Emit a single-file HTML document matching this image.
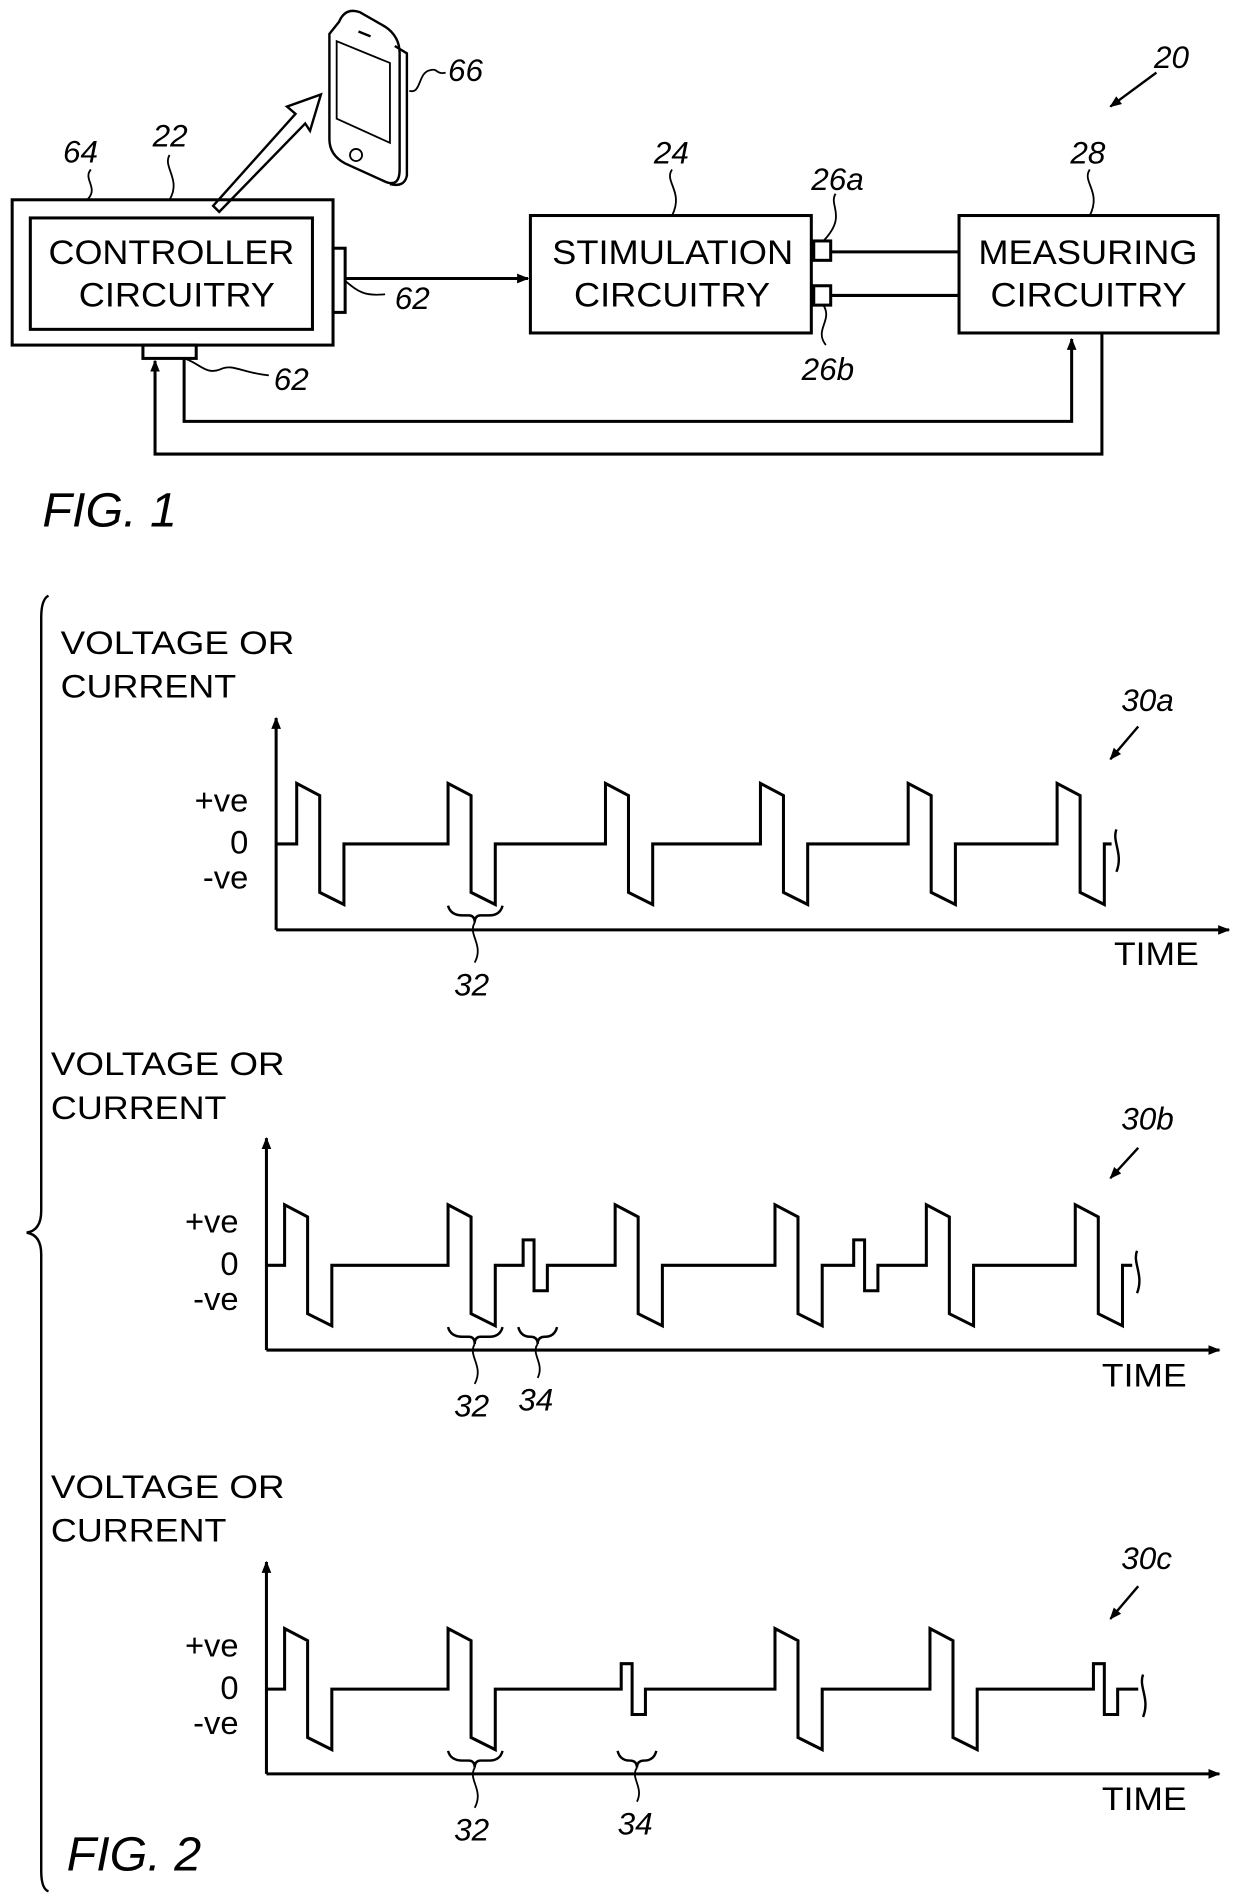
<!DOCTYPE html>
<html><head><meta charset="utf-8"><style>
html,body{margin:0;padding:0;background:#fff}
svg{display:block}
text{font-family:"Liberation Sans",Arial,sans-serif;fill:#000}
.b{font-size:28px}
.i{font-size:26px;font-style:italic}
.l{font-size:27px}
</style></head><body>
<svg width="1240" height="1901" viewBox="0 0 1024 1570" xmlns="http://www.w3.org/2000/svg">
<defs><marker id="a" markerWidth="10" markerHeight="10" refX="9" refY="5" orient="auto" markerUnits="userSpaceOnUse"><path d="M0 1 L10 5 L0 9 Z" fill="#000"/></marker></defs>
<g fill="none" stroke="#000" stroke-width="2.5">
<rect x="10" y="165" width="265" height="120"/>
<rect x="25" y="180" width="233" height="92"/>
<rect x="275" y="205" width="10" height="53"/>
<rect x="118" y="285" width="44" height="11"/>
<line x1="285" y1="230" x2="436" y2="230" marker-end="url(#a)"/>
<rect x="438" y="178" width="232" height="97"/>
<rect x="672" y="199" width="14" height="16"/>
<rect x="672" y="236" width="14" height="16"/>
<line x1="686" y1="208" x2="792" y2="208"/>
<line x1="686" y1="244" x2="792" y2="244"/>
<rect x="792" y="178" width="214" height="97"/>
<polyline points="152,296 152,348 885,348 885,280" marker-end="url(#a)"/>
<polyline points="910,275 910,375 128,375 128,298" marker-end="url(#a)"/>
<path d="M176 170 L181 175 L252 102 L256 108 L265 78 L237 88 L244 94 Z" stroke-width="2"/>
<path d="M280 18 Q285 6 297 10 L318 22 Q330 30 330 44 L330 140 Q330 155 318 150 L285 135 Q272 128 272 115 L272 28 Z" stroke-width="2"/>
<path d="M326 38 L336 44 L336 145 Q334 155 322 152" stroke-width="2"/>
<path d="M278 34 L322 52 L322 118 L278 98 Z" stroke-width="1.5"/>
<circle cx="294" cy="128" r="5" stroke-width="1.5"/>
<path d="M296 26 L306 30" stroke-width="2"/>
<path d="M338 75 C348 78 345 60 355 58 C362 56 360 62 368 60" stroke-width="1.5"/>
<path d="M75 140 C68 148 82 155 72 165" stroke-width="1.5"/>
<path d="M140 128 C134 138 150 148 140 165" stroke-width="1.5"/>
<path d="M555 140 C548 150 565 158 555 178" stroke-width="1.5"/>
<path d="M900 140 C893 150 910 158 900 178" stroke-width="1.5"/>
<path d="M690 160 C684 170 700 178 680 199" stroke-width="1.5"/>
<path d="M680 252 C688 265 672 272 682 285" stroke-width="1.5"/>
<path d="M285 232 C295 240 300 245 318 243" stroke-width="1.5"/>
<path d="M152 296 C165 300 170 310 182 305 C192 300 200 308 222 310" stroke-width="1.5"/>
<line x1="955" y1="60" x2="917" y2="88" stroke-width="2" marker-end="url(#a)"/>
<path d="M40 492 Q34 495 34 510 L34 1000 Q34 1016 22 1018 Q34 1020 34 1036 L34 1545 Q34 1560 40 1562" stroke-width="2"/>
<line x1="228" y1="768" x2="228" y2="593" marker-end="url(#a)"/>
<line x1="228" y1="768" x2="1015" y2="768" marker-end="url(#a)"/>
<path d="M228 697 H245 V647 L264 657 V737 L284 747 V697 H370 V647 L389 657 V737 L409 747 V697 H500 V647 L519 657 V737 L539 747 V697 H628 V647 L647 657 V737 L667 747 V697 H750 V647 L769 657 V737 L789 747 V697 H873 V647 L892 657 V737 L912 747 V697 H918"/>
<path d="M922 685 C918 695 928 705 922 720" stroke-width="2"/>
<path d="M370 748 Q372 756 382 756 H387 Q392 756 392 762 Q392 756 397 756 H404 Q413 756 415 748" stroke-width="2"/>
<path d="M392 762 C386 772 400 780 392 795" stroke-width="1.5"/>
<line x1="940" y1="600" x2="917" y2="627" stroke-width="2" marker-end="url(#a)"/>
<line x1="220" y1="1115" x2="220" y2="940" marker-end="url(#a)"/>
<line x1="220" y1="1115" x2="1007" y2="1115" marker-end="url(#a)"/>
<path d="M220 1045 H235 V995 L254 1005 V1085 L274 1095 V1045 H370 V995 L389 1005 V1085 L409 1095 V1045 H432 V1024 H441 V1066 H452 V1045 H508 V995 L527 1005 V1085 L547 1095 V1045 H640 V995 L659 1005 V1085 L679 1095 V1045 H705 V1024 H714 V1066 H725 V1045 H765 V995 L784 1005 V1085 L804 1095 V1045 H888 V995 L907 1005 V1085 L927 1095 V1045 H935"/>
<path d="M939 1033 C935 1043 945 1053 939 1068" stroke-width="2"/>
<path d="M370 1096 Q372 1104 382 1104 H387 Q392 1104 392 1110 Q392 1104 397 1104 H404 Q413 1104 415 1096" stroke-width="2"/>
<path d="M392 1110 C386 1120 400 1128 392 1143" stroke-width="1.5"/>
<path d="M428 1096 Q430 1104 438 1104 Q444 1104 444 1110 Q444 1104 450 1104 Q458 1104 460 1096" stroke-width="2"/>
<path d="M444 1110 C438 1118 450 1126 444 1138" stroke-width="1.5"/>
<line x1="940" y1="948" x2="917" y2="973" stroke-width="2" marker-end="url(#a)"/>
<line x1="220" y1="1465" x2="220" y2="1290" marker-end="url(#a)"/>
<line x1="220" y1="1465" x2="1007" y2="1465" marker-end="url(#a)"/>
<path d="M220 1395 H235 V1345 L254 1355 V1435 L274 1445 V1395 H370 V1345 L389 1355 V1435 L409 1445 V1395 H513 V1374 H522 V1416 H533 V1395 H640 V1345 L659 1355 V1435 L679 1445 V1395 H768 V1345 L787 1355 V1435 L807 1445 V1395 H903 V1374 H912 V1416 H923 V1395 H940"/>
<path d="M944 1383 C940 1393 950 1403 944 1418" stroke-width="2"/>
<path d="M370 1446 Q372 1454 382 1454 H387 Q392 1454 392 1460 Q392 1454 397 1454 H404 Q413 1454 415 1446" stroke-width="2"/>
<path d="M392 1460 C386 1470 400 1478 392 1493" stroke-width="1.5"/>
<path d="M510 1446 Q512 1454 520 1454 Q526 1454 526 1460 Q526 1454 532 1454 Q540 1454 542 1446" stroke-width="2"/>
<path d="M526 1460 C520 1468 532 1476 526 1488" stroke-width="1.5"/>
<line x1="940" y1="1310" x2="917" y2="1337" stroke-width="2" marker-end="url(#a)"/>
</g>
<text class="b" x="40" y="218" textLength="203" lengthAdjust="spacingAndGlyphs">CONTROLLER</text>
<text class="b" x="65" y="253" textLength="162" lengthAdjust="spacingAndGlyphs">CIRCUITRY</text>
<text class="b" x="456" y="218" textLength="199" lengthAdjust="spacingAndGlyphs">STIMULATION</text>
<text class="b" x="474" y="253" textLength="162" lengthAdjust="spacingAndGlyphs">CIRCUITRY</text>
<text class="b" x="808" y="218" textLength="181" lengthAdjust="spacingAndGlyphs">MEASURING</text>
<text class="b" x="818" y="253" textLength="162" lengthAdjust="spacingAndGlyphs">CIRCUITRY</text>
<text class="i" x="370" y="67">66</text>
<text class="i" x="953" y="56">20</text>
<text class="i" x="52" y="134">64</text>
<text class="i" x="126" y="121">22</text>
<text class="i" x="540" y="135">24</text>
<text class="i" x="884" y="135">28</text>
<text class="i" x="670" y="157">26a</text>
<text class="i" x="662" y="314">26b</text>
<text class="i" x="326" y="255">62</text>
<text class="i" x="226" y="322">62</text>
<text x="35" y="435" style="font-size:40px;font-style:italic">FIG. 1</text>
<text class="l" x="50" y="540" textLength="193" lengthAdjust="spacingAndGlyphs">VOLTAGE OR</text>
<text class="l" x="50" y="576" textLength="145" lengthAdjust="spacingAndGlyphs">CURRENT</text>
<text class="l" x="205" y="670" text-anchor="end">+ve</text>
<text class="l" x="205" y="705" text-anchor="end">0</text>
<text class="l" x="205" y="734" text-anchor="end">-ve</text>
<text class="l" x="920" y="797" textLength="70" lengthAdjust="spacingAndGlyphs">TIME</text>
<text class="i" x="926" y="587">30a</text>
<text class="i" x="375" y="822">32</text>
<text class="l" x="42" y="888" textLength="193" lengthAdjust="spacingAndGlyphs">VOLTAGE OR</text>
<text class="l" x="42" y="924" textLength="145" lengthAdjust="spacingAndGlyphs">CURRENT</text>
<text class="l" x="197" y="1018" text-anchor="end">+ve</text>
<text class="l" x="197" y="1053" text-anchor="end">0</text>
<text class="l" x="197" y="1082" text-anchor="end">-ve</text>
<text class="l" x="910" y="1145" textLength="70" lengthAdjust="spacingAndGlyphs">TIME</text>
<text class="i" x="926" y="933">30b</text>
<text class="i" x="375" y="1170">32</text>
<text class="i" x="428" y="1165">34</text>
<text class="l" x="42" y="1237" textLength="193" lengthAdjust="spacingAndGlyphs">VOLTAGE OR</text>
<text class="l" x="42" y="1273" textLength="145" lengthAdjust="spacingAndGlyphs">CURRENT</text>
<text class="l" x="197" y="1368" text-anchor="end">+ve</text>
<text class="l" x="197" y="1403" text-anchor="end">0</text>
<text class="l" x="197" y="1432" text-anchor="end">-ve</text>
<text class="l" x="910" y="1495" textLength="70" lengthAdjust="spacingAndGlyphs">TIME</text>
<text class="i" x="926" y="1296">30c</text>
<text class="i" x="375" y="1520">32</text>
<text class="i" x="510" y="1515">34</text>
<text x="55" y="1545" style="font-size:40px;font-style:italic">FIG. 2</text>
</svg>
</body></html>
